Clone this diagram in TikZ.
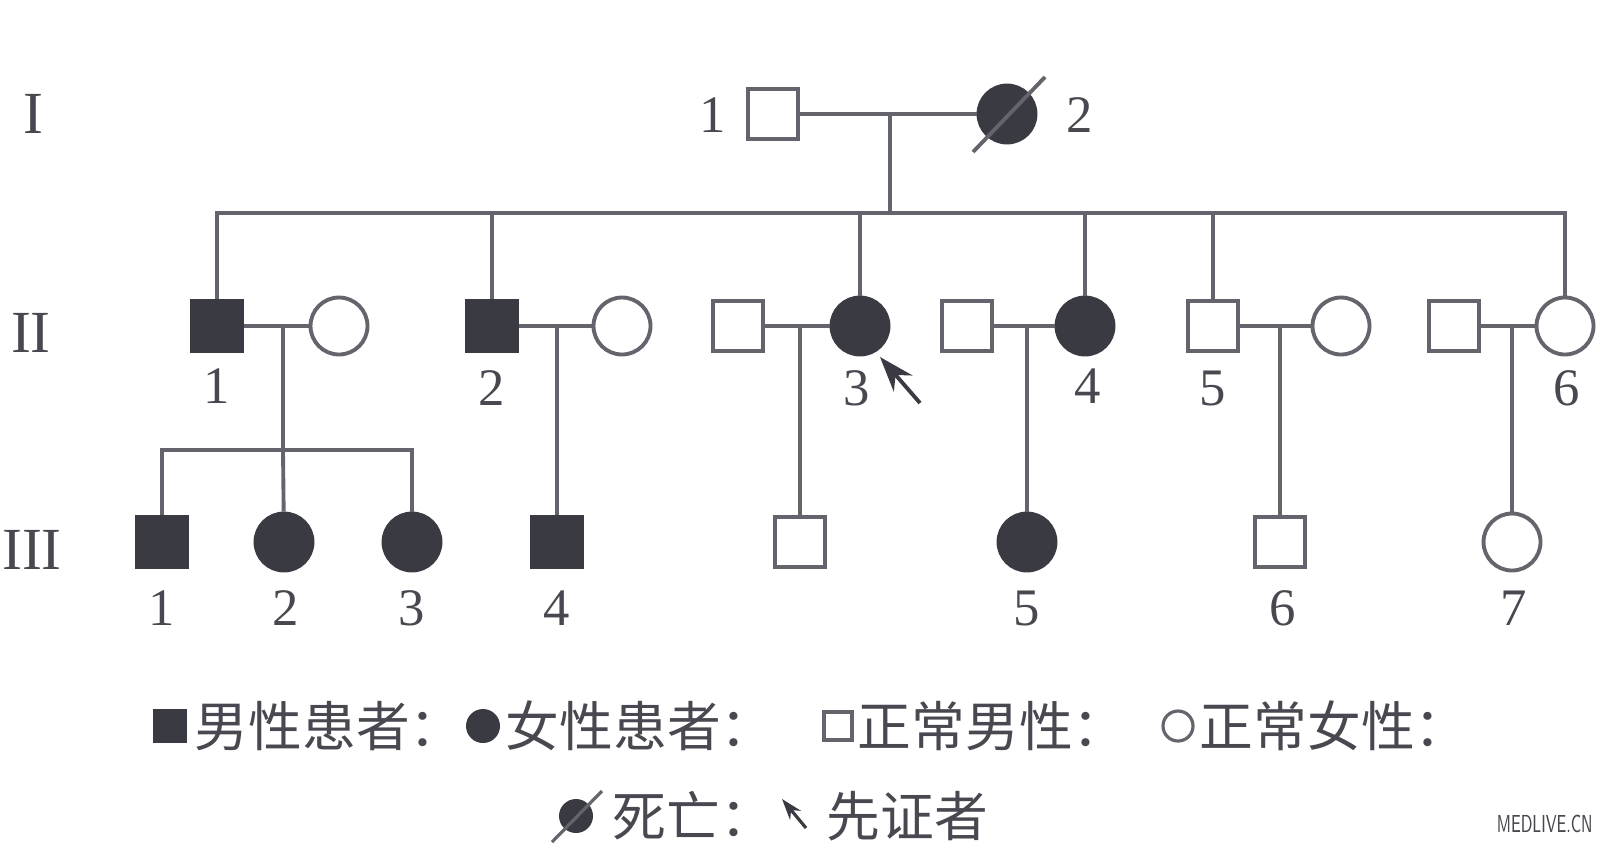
\documentclass[tikz,border=0pt]{standalone}
\usepackage{fontspec}
\setmainfont{Liberation Serif}
\newfontfamily\cjk{Noto Sans CJK SC}
\usepackage{tikz}
\usetikzlibrary{arrows.meta,positioning}

\definecolor{linecol}{RGB}{100,100,108}
\definecolor{fillcol}{RGB}{58,58,66}
\definecolor{txtcol}{RGB}{72,72,80}

\tikzset{
  pline/.style={draw=linecol,line width=1.1pt},
  male/.style={rectangle,draw=linecol,line width=1.1pt,fill=white,minimum size=0.5cm,inner sep=0pt},
  female/.style={circle,draw=linecol,line width=1.1pt,fill=white,minimum size=0.57cm,inner sep=0pt},
  ill/.style={fill=fillcol,draw=fillcol},
  num/.style={text=txtcol,font=\fontsize{15}{15}\selectfont,inner sep=0pt},
  gen/.style={text=txtcol,font=\fontsize{17}{17}\selectfont,inner sep=0pt},
  legtext/.style={text=txtcol,font=\cjk\fontsize{15.3}{15.3}\selectfont,anchor=west,inner sep=0pt},
}

\begin{document}
\begin{tikzpicture}
    \fill[white] (0,0) rectangle (16,-8.54);
    \useasboundingbox (0,0) rectangle (16,-8.54);

    % Generation labels
    \node[gen] (genI) at (0.33,-1.14) {I};
    \node[gen] (genII) at (0.31,-3.33) {II};
    \node[gen] (genIII) at (0.32,-5.50) {III};

    % Generation I
    \node[male] (i1) at (7.73,-1.14) {};
    \node[female,ill] (i2) at (10.07,-1.14) {};
    \node[num] (li1) at (7.13,-1.15) {1};
    \node[num] (li2) at (10.80,-1.15) {2};
    \draw[pline] ([shift={(-0.34,-0.38)}]i2.center) -- ([shift={(0.38,0.37)}]i2.center);

    % Generation II
    \node[male,ill] (ii1) at (2.17,-3.26) {};
    \node[female] (ii1w) at (3.39,-3.26) {};
    \node[male,ill] (ii2) at (4.92,-3.26) {};
    \node[female] (ii2w) at (6.22,-3.26) {};
    \node[male] (ii3h) at (7.38,-3.26) {};
    \node[female,ill] (ii3) at (8.60,-3.26) {};
    \node[male] (ii4h) at (9.67,-3.26) {};
    \node[female,ill] (ii4) at (10.85,-3.26) {};
    \node[male] (ii5) at (12.13,-3.26) {};
    \node[female] (ii5w) at (13.41,-3.26) {};
    \node[male] (ii6h) at (14.54,-3.26) {};
    \node[female] (ii6) at (15.65,-3.26) {};

    \node[num] (lii1) at (2.17,-3.86) {1};
    \node[num] (lii2) at (4.92,-3.88) {2};
    \node[num] (lii3) at (8.57,-3.88) {3};
    \node[num] (lii4) at (10.88,-3.86) {4};
    \node[num] (lii5) at (12.13,-3.88) {5};
    \node[num] (lii6) at (15.67,-3.88) {6};

    % Generation III
    \node[male,ill] (iii1) at (1.62,-5.42) {};
    \node[female,ill] (iii2) at (2.84,-5.42) {};
    \node[female,ill] (iii3) at (4.12,-5.42) {};
    \node[male,ill] (iii4) at (5.57,-5.42) {};
    \node[male] (iii3s) at (8.00,-5.42) {};
    \node[female,ill] (iii5) at (10.27,-5.42) {};
    \node[male] (iii6) at (12.80,-5.42) {};
    \node[female] (iii7) at (15.12,-5.42) {};

    \node[num] (liii1) at (1.62,-6.08) {1};
    \node[num] (liii2) at (2.86,-6.08) {2};
    \node[num] (liii3) at (4.12,-6.08) {3};
    \node[num] (liii4) at (5.57,-6.08) {4};
    \node[num] (liii5) at (10.27,-6.08) {5};
    \node[num] (liii6) at (12.83,-6.08) {6};
    \node[num] (liii7) at (15.14,-6.08) {7};

    % Marriage lines and drops
    \coordinate (cI) at (8.90,-1.14);
    \coordinate (sibII) at (8.90,-2.13);
    \coordinate (c1) at (2.83,-3.26);
    \coordinate (s1) at (2.83,-4.50);
    \coordinate (c2) at (5.57,-3.26);
    \coordinate (c3) at (8.00,-3.26);
    \coordinate (c4) at (10.27,-3.26);
    \coordinate (c5) at (12.80,-3.26);
    \coordinate (c6) at (15.12,-3.26);

    \draw[pline] (i1) -- (i2);
    \draw[pline] (cI) -- (sibII);
    \draw[pline] (ii1) |- (sibII) -| (ii6);
    \draw[pline] (ii2) -- (ii2 |- sibII);
    \draw[pline] (ii3) -- (ii3 |- sibII);
    \draw[pline] (ii4) -- (ii4 |- sibII);
    \draw[pline] (ii5) -- (ii5 |- sibII);

    \draw[pline] (ii1) -- (ii1w);
    \draw[pline] (ii2) -- (ii2w);
    \draw[pline] (ii3h) -- (ii3);
    \draw[pline] (ii4h) -- (ii4);
    \draw[pline] (ii5) -- (ii5w);
    \draw[pline] (ii6h) -- (ii6);

    \draw[pline] (c1) -- (s1);
    \draw[pline] (iii1) |- (s1) -| (iii3);
    \draw[pline] (s1) -- (iii2);
    \draw[pline] (c2) -- (iii4);
    \draw[pline] (c3) -- (iii3s);
    \draw[pline] (c4) -- (iii5);
    \draw[pline] (c5) -- (iii6);
    \draw[pline] (c6) -- (iii7);

    % Proband arrow
    \coordinate (ptail) at (9.20,-4.03);
    \coordinate (phead) at (8.80,-3.57);
    \draw[pline,-{Stealth[length=10pt,width=7pt]},draw=fillcol,fill=fillcol] (ptail) -- (phead);

    % Legend
    \node[rectangle,fill=fillcol,minimum size=0.34cm,inner sep=0pt] (kma) at (1.70,-7.26) {};
    \node[legtext] (tma) at (1.94,-7.26) {男性患者：};
    \node[circle,fill=fillcol,minimum size=0.34cm,inner sep=0pt] (kfa) at (4.83,-7.26) {};
    \node[legtext] (tfa) at (5.05,-7.26) {女性患者：};
    \node[rectangle,draw=linecol,line width=0.9pt,minimum size=0.28cm,inner sep=0pt] (kmn) at (8.38,-7.26) {};
    \node[legtext] (tmn) at (8.57,-7.26) {正常男性：};
    \node[circle,draw=linecol,line width=0.9pt,minimum size=0.3cm,inner sep=0pt] (kfn) at (11.78,-7.26) {};
    \node[legtext] (tfn) at (11.99,-7.26) {正常女性：};

    \node[circle,fill=fillcol,minimum size=0.34cm,inner sep=0pt] (kd) at (5.76,-8.16) {};
    \draw[pline,line width=0.9pt] ([shift={(-0.24,-0.26)}]kd.center) -- ([shift={(0.26,0.25)}]kd.center);
    \node[legtext] (td) at (6.12,-8.16) {死亡：};
    \coordinate (ktail) at (8.06,-8.28);
    \coordinate (khead) at (7.82,-7.99);
    \draw[pline,line width=0.9pt,-{Stealth[length=6pt,width=4pt]},draw=fillcol,fill=fillcol] (ktail) -- (khead);
    \node[legtext] (tp) at (8.26,-8.16) {先证者};

    % Watermark
    \node[text=txtcol,font=\sffamily\fontsize{7}{7}\selectfont,inner sep=0pt,anchor=east,xscale=0.62] (wm) at (15.93,-8.24) {MEDLIVE.CN};
\end{tikzpicture}
\end{document}
